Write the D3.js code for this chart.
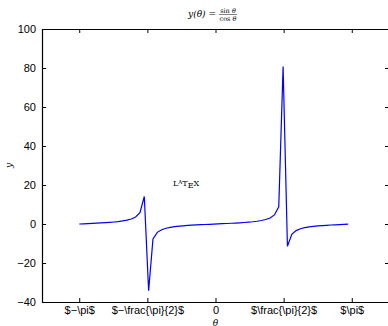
<!DOCTYPE html>
<html>
<head>
<meta charset="utf-8">
<script src="https://cdn.jsdelivr.net/npm/d3@7"></script>
<style>
  body { margin: 0; background: #fff; }
  svg { display: block; }
  .tick text { font-family: 'Liberation Sans', Arial, sans-serif; font-size: 11px; fill: #000; }
  .tex { font-family: 'DejaVu Serif', 'Liberation Serif', serif; fill: #000; }
</style>
</head>
<body>
<div id="chart"></div>
<script>
const WIDTH = 388;
const HEIGHT = 326;
const MARGIN = { left: 42, right: -1, top: 29, bottom: 24 };

// theta samples and y values
const theta = [
  -3.1416, -3.0416, -2.9416, -2.8416, -2.7416, -2.6416, -2.5416, -2.4416, -2.3416, -2.2416,
  -2.1416, -2.0416, -1.9416, -1.8416, -1.7416, -1.6416, -1.5416, -1.4416, -1.3416, -1.2416,
  -1.1416, -1.0416, -0.9416, -0.8416, -0.7416, -0.6416, -0.5416, -0.4416, -0.3416, -0.2416,
  -0.1416, -0.0416, 0.0584, 0.1584, 0.2584, 0.3584, 0.4584, 0.5584, 0.6584, 0.7584,
  0.8584, 0.9584, 1.0584, 1.1584, 1.2584, 1.3584, 1.4584, 1.5584, 1.6584, 1.7584,
  1.8584, 1.9584, 2.0584, 2.1584, 2.2584, 2.3584, 2.4584, 2.5584, 2.6584, 2.7584,
  2.8584, 2.9584, 3.0584
];
const yValues = [
  0, 0.100, 0.203, 0.309, 0.423, 0.546, 0.684, 0.842, 1.030, 1.260,
  1.557, 1.965, 2.572, 3.602, 5.798, 14.10, -34.23, -7.697, -4.286, -2.927,
  -2.185, -1.710, -1.374, -1.119, -0.916, -0.747, -0.602, -0.473, -0.356, -0.247,
  -0.143, -0.042, 0.058, 0.160, 0.264, 0.375, 0.494, 0.625, 0.774, 0.947,
  1.158, 1.424, 1.778, 2.288, 3.096, 4.637, 8.860, 80.71, -11.39, -5.268,
  -3.381, -2.447, -1.885, -1.502, -1.219, -0.996, -0.814, -0.660, -0.525, -0.404,
  -0.291, -0.185, -0.083
];

const xTicks = [-Math.PI, -Math.PI / 2, 0, Math.PI / 2, Math.PI];
const xTickLabels = ['$\u2212\\pi$', '$\u2212\\frac{\\pi}{2}$', '0', '$\\frac{\\pi}{2}$', '$\\pi$'];
const yTicks = [-40, -20, 0, 20, 40, 60, 80, 100];

const svg = d3.select('#chart')
  .append('svg')
  .attr('width', WIDTH)
  .attr('height', HEIGHT);

const x = d3.scaleLinear()
  .domain([-4, 4])
  .range([MARGIN.left, WIDTH - MARGIN.right]);

const y = d3.scaleLinear()
  .domain([-40, 100])
  .range([HEIGHT - MARGIN.bottom, MARGIN.top]);

const fmt = d => (d < 0 ? '\u2212' + Math.abs(d) : '' + d);

// bottom and top axes, ticks pointing inward
svg.append('g')
  .attr('transform', `translate(0,${y(-40)})`)
  .call(d3.axisBottom(x).tickValues(xTicks).tickSizeInner(-4).tickSizeOuter(0).tickPadding(4)
    .tickFormat((d, i) => xTickLabels[i]))
  .call(g => g.selectAll('.tick text').attr('dy', '0.75em'));

svg.append('g')
  .attr('transform', `translate(0,${y(100)})`)
  .call(d3.axisTop(x).tickValues(xTicks).tickSizeInner(-4).tickSizeOuter(0).tickFormat(''));

svg.append('g')
  .attr('transform', `translate(${x(-4)},0)`)
  .call(d3.axisLeft(y).tickValues(yTicks).tickSizeInner(-4).tickSizeOuter(0).tickPadding(6)
    .tickFormat(fmt));

svg.append('g')
  .attr('transform', `translate(${x(4)},0)`)
  .call(d3.axisRight(y).tickValues(yTicks).tickSizeInner(-4).tickSizeOuter(0).tickFormat(''));

svg.selectAll('.domain').attr('stroke', '#000').attr('stroke-width', 1.2);

const line = d3.line()
  .x((d, i) => x(theta[i]))
  .y(d => y(d));

svg.append('path')
  .datum(yValues)
  .attr('fill', 'none')
  .attr('stroke', '#0000ff')
  .attr('stroke-width', 1.2)
  .attr('d', line);

// title: y(θ) = sin θ / cos θ
const title = svg.append('g').attr('class', 'tex');
title.append('text')
  .attr('x', 216).attr('y', 17)
  .attr('text-anchor', 'end')
  .style('font-size', '9px')
  .style('font-style', 'italic')
  .text('y(θ) =');
title.append('text')
  .attr('x', 228).attr('y', 13)
  .attr('text-anchor', 'middle')
  .style('font-size', '6.5px')
  .html('sin <tspan font-style="italic">θ</tspan>');
title.append('line')
  .attr('x1', 219).attr('x2', 237)
  .attr('y1', 14.5).attr('y2', 14.5)
  .attr('stroke', '#000').attr('stroke-width', 0.5);
title.append('text')
  .attr('x', 228).attr('y', 21)
  .attr('text-anchor', 'middle')
  .style('font-size', '6.5px')
  .html('cos <tspan font-style="italic">θ</tspan>');

// axis labels
svg.append('text')
  .attr('class', 'tex')
  .attr('transform', `translate(12,${(y(-40) + y(100)) / 2}) rotate(-90)`)
  .attr('text-anchor', 'middle')
  .style('font-size', '9px')
  .style('font-style', 'italic')
  .text('y');

svg.append('text')
  .attr('class', 'tex')
  .attr('x', x(0))
  .attr('y', 325.5)
  .attr('text-anchor', 'middle')
  .style('font-size', '9px')
  .style('font-style', 'italic')
  .text('θ');

// LaTeX logo
const logo = svg.append('text')
  .attr('class', 'tex')
  .attr('x', 173)
  .attr('y', 186)
  .style('font-size', '8px');
logo.append('tspan').text('L');
logo.append('tspan').attr('dy', -2).style('font-size', '5.5px').text('A');
logo.append('tspan').attr('dy', 2).text('T');
logo.append('tspan').attr('dy', 2).text('E');
logo.append('tspan').attr('dy', -2).text('X');
</script>
</body>
</html>
